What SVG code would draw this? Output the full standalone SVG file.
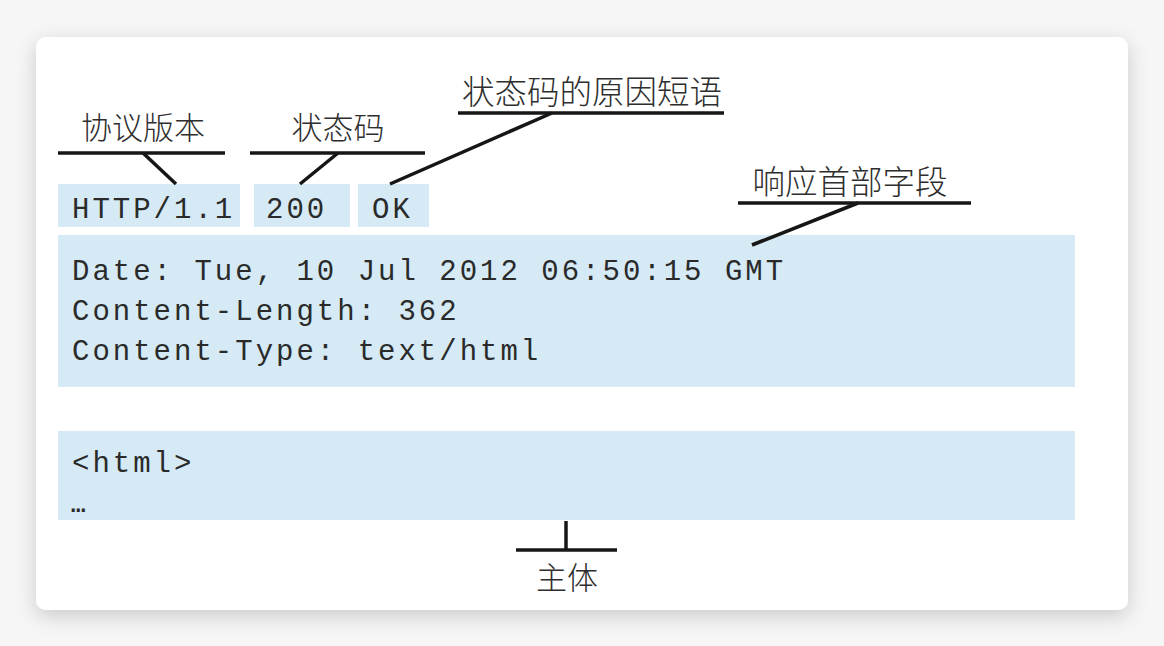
<svg xmlns="http://www.w3.org/2000/svg" width="1164" height="646" viewBox="0 0 1164 646">
<defs>
<filter id="sh" x="-10%" y="-10%" width="120%" height="125%">
<feDropShadow dx="0" dy="6" stdDeviation="10" flood-color="#000" flood-opacity="0.18"/>
</filter>
<style>
.box{fill:#d5eaf5}
.mono{font-family:"Liberation Mono","Courier New",monospace;font-size:29px;fill:#2a2a2a;letter-spacing:3px}
.cjk{font-family:"Noto Sans CJK SC","Noto Sans",sans-serif;font-size:31px;font-weight:300;fill:#2e2e2e}
.big{font-size:32.5px}
.ln{stroke:#161616;stroke-width:3.5;fill:none;stroke-linecap:butt}
</style>
</defs>
<rect width="1164" height="646" fill="#f6f6f6"/>
<rect x="36" y="37" width="1092" height="573" rx="10" fill="#ffffff" filter="url(#sh)"/>

<g id="node-protocol">
<rect class="box" x="58" y="184" width="182" height="43"/>
<text class="mono" x="72" y="218">HTTP/1.1</text>
</g>
<g id="node-status">
<rect class="box" x="254" y="184" width="96" height="43"/>
<text class="mono" x="266" y="218">200</text>
</g>
<g id="node-reason">
<rect class="box" x="358" y="184" width="71" height="43"/>
<text class="mono" x="372" y="218">OK</text>
</g>
<g id="node-headers">
<rect class="box" x="58" y="235" width="1017" height="152"/>
<text class="mono" x="72" y="280">Date: Tue, 10 Jul 2012 06:50:15 GMT</text>
<text class="mono" x="72" y="320">Content-Length: 362</text>
<text class="mono" x="72" y="360">Content-Type: text/html</text>
</g>
<g id="node-body">
<rect class="box" x="58" y="431" width="1017" height="89"/>
<text class="mono" x="72" y="472">&lt;html&gt;</text>
<text class="mono" x="71" y="512" style="letter-spacing:0;font-size:24px;font-weight:bold">…</text>
</g>

<g id="label-protocol"><text class="cjk" x="143" y="139" text-anchor="middle">协议版本</text></g>
<g id="label-status"><text class="cjk" x="338" y="139" text-anchor="middle">状态码</text></g>
<g id="label-reason"><text class="cjk big" x="592" y="104" text-anchor="middle">状态码的原因短语</text></g>
<g id="label-headers"><text class="cjk big" x="850" y="194" text-anchor="middle">响应首部字段</text></g>
<g id="label-body"><text class="cjk" x="567" y="589" text-anchor="middle">主体</text></g>

<g id="connectors">
<line class="ln" x1="58" y1="153" x2="225" y2="153"/>
<line class="ln" x1="143" y1="153" x2="176" y2="184"/>
<line class="ln" x1="250" y1="153" x2="425" y2="153"/>
<line class="ln" x1="338" y1="153" x2="300" y2="184"/>
<line class="ln" x1="458" y1="113" x2="724" y2="113"/>
<line class="ln" x1="552" y1="113" x2="390" y2="184"/>
<line class="ln" x1="738" y1="203" x2="971" y2="203"/>
<line class="ln" x1="858" y1="203" x2="752" y2="245"/>
<line class="ln" x1="566" y1="521" x2="566" y2="550"/>
<line class="ln" x1="516" y1="550" x2="617" y2="550"/>
</g>
</svg>
